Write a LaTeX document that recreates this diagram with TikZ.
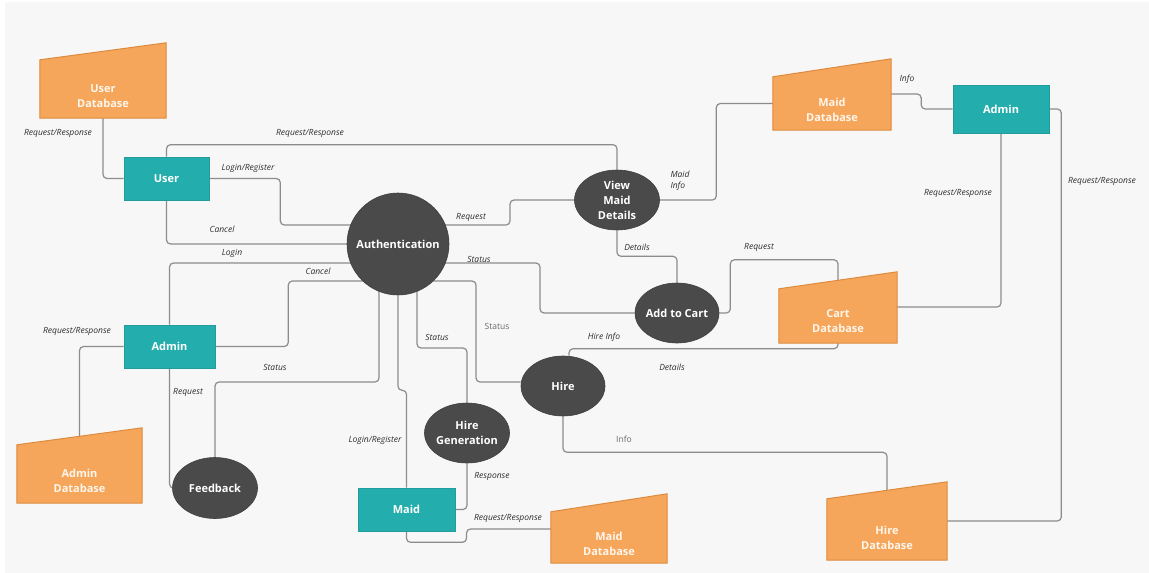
\documentclass[tikz,border=0pt]{standalone}
\usepackage{fontspec}
\setmainfont{Open Sans}
\usetikzlibrary{shapes.geometric,backgrounds,calc}
\definecolor{tealc}{HTML}{23AEAD}
\definecolor{orng}{HTML}{F6A65B}
\definecolor{orngd}{HTML}{DE8A3E}
\definecolor{darkc}{HTML}{4A4A4A}
\definecolor{linec}{HTML}{8C8C8C}
\definecolor{bgc}{HTML}{F7F7F7}
\definecolor{lbl}{HTML}{2E2E2E}
\definecolor{lblu}{HTML}{6A6A6A}
\definecolor{dbtxt}{HTML}{FFF6EC}
\tikzset{
  shapetext/.style={font=\bfseries\fontsize{11}{15}\selectfont, text=white, align=center},
  tbox/.style={rectangle, fill=tealc, draw=tealc!90!black, line width=0.6pt, inner sep=0pt, shapetext},
  proc/.style={ellipse, fill=darkc, draw=darkc!85!black, line width=0.6pt, inner sep=0pt},
  ptext/.style={shapetext},
  dbbody/.style={rectangle, draw=none, inner sep=0pt},
  dbfill/.style={fill=orng, draw=orngd, line width=1pt, line join=miter},
  dbtext/.style={shapetext, text=dbtxt, inner sep=0pt},
  conn/.style={draw=linec, line width=1.2pt, rounded corners=4pt},
  lab/.style={font=\fontsize{8.5}{11}\selectfont\itshape, text=lbl, inner sep=0pt},
  labu/.style={font=\fontsize{8.5}{11}\selectfont, text=lblu, inner sep=0pt}
}
\newcommand\mkdb[7]{%
  \node[dbbody, minimum width=#3pt, minimum height=#4pt] (#1) at #2 {};
  \path[dbfill] (#1.south west) -- (#1.south east) -- ([yshift=#5pt]#1.north east) -- (#1.north west) -- cycle;
  \node[dbtext] (#1-t) at ([yshift=-#6pt]#1.center) {#7};
}
\begin{document}
\begin{tikzpicture}[x=1pt,y=-1pt]
\useasboundingbox (0,0) rectangle (1149,573);

% databases
\mkdb{udb}{(103,89)}{126}{58}{17}{7.5}{User\\Database}
\mkdb{adb}{(79.5,474)}{125}{58}{17}{6.5}{Admin\\Database}
\mkdb{mdbt}{(832,103.5)}{118}{53}{18}{6}{Maid\\Database}
\mkdb{cdb}{(838,316)}{118}{54}{17}{5.5}{Cart\\Database}
\mkdb{mdbb}{(609,537.5)}{116}{51}{18}{6}{Maid\\Database}
\mkdb{hdb}{(887,529.5)}{120}{61}{17}{8}{Hire\\Database}

% teal boxes
\node[tbox, minimum width=85pt, minimum height=43pt] (user) at (166.5,178.5) {User};
\node[tbox, minimum width=91pt, minimum height=43pt] (adminl) at (169.5,346.5) {Admin};
\node[tbox, minimum width=96pt, minimum height=48pt] (adminr) at (1001,109) {Admin};
\node[tbox, minimum width=97pt, minimum height=43pt] (maid) at (406.5,509.5) {Maid};

% processes
\node[proc, circle, minimum size=102pt, label={[ptext]center:Authentication}] (auth) at (398,244) {};
\node[proc, minimum width=85pt, minimum height=60pt, label={[ptext]center:View\\Maid\\Details}] (vmd) at (617,200) {};
\node[proc, minimum width=84pt, minimum height=60pt, label={[ptext]center:Add to Cart}] (cart) at (677,313) {};
\node[proc, minimum width=84pt, minimum height=60pt, label={[ptext]center:Hire}] (hire) at (563,386) {};
\node[proc, minimum width=85pt, minimum height=60pt, label={[ptext]center:Hire\\Generation}] (hgen) at (467,433) {};
\node[proc, minimum width=85pt, minimum height=61pt, label={[ptext]center:Feedback}] (fb) at (215,488) {};

% connectors
\begin{pgfonlayer}{background}
\fill[white] (0,0) rectangle (1149,573);
\fill[bgc] (5,2) rectangle (1149,573);
\draw[conn] (udb.south) |- (user.west);
\draw[conn] (user.north) -- ++(0,-12) -| (vmd.north);
\draw[conn] (user.east) -- ++(71,0) |- ($(auth.center)+(0,-19)$);
\draw[conn] (user.south) |- (auth.center);
\draw[conn] (adminl.north) |- ($(auth.center)+(0,19)$);
\draw[conn] (adminl.east) -- ++(73,0) |- ($(auth.center)+(0,37)$);
\draw[conn] (fb.north) |- ($(auth.center)+(-19,138)$) -- ($(auth.center)+(-19,0)$);
\draw[conn] (adminl.south) |- (fb.west);
\draw[conn] (adminl.west) -| (adb.north);
\draw[conn] ($(auth.center)+(0,-19)$) -- ++(112,0) |- (vmd.west);
\draw[conn] (vmd.east) -- ++(56.5,0) |- (mdbt.west);
\draw[conn] ([yshift=9.5pt]mdbt.east) -- ++(30,0) |- (adminr.west);
\draw[conn] (vmd.south) -- ++(0,26) -| (cart.north);
\draw[conn] ($(auth.center)+(0,19)$) -- ++(142,0) |- (cart.west);
\draw[conn] (cart.east) -- ++(11,0) |- ($(cdb.north)+(0,-29)$) -- (cdb.north);
\draw[conn] (adminr.south) |- ([yshift=9pt]cdb.east);
\draw[conn] (adminr.east) -- ++(12,0) |- ([yshift=8.5pt]hdb.east);
\draw[conn] ($(auth.center)+(0,37)$) -- ++(78,0) |- ([yshift=4pt]hire.west);
\draw[conn] ($(auth.center)+(19,0)$) -- ++(0,104) -| (hgen.north);
\draw[conn] (auth.south) -- ++(0,95) -| (maid.north);
\draw[conn] (hgen.south) |- (maid.east);
\draw[conn] (maid.south) -- ++(0,11) -- ++(60,0) |- ([yshift=8.5pt]mdbb.west);
\draw[conn] ([xshift=6pt]hire.north) -- ++(0,-7) -| (cdb.south);
\draw[conn] (hire.south) -- ++(0,36) -| (hdb.north);
\end{pgfonlayer}

% labels
\node[lab] (l1) at (58,133) {Request/Response};
\node[lab] (l2) at (310,133) {Request/Response};
\node[lab] (l3) at (248,168) {Login/Register};
\node[lab] (l4) at (222,229) {Cancel};
\node[lab] (l5) at (232,253) {Login};
\node[lab] (l6) at (318,271) {Cancel};
\node[lab] (l7) at (77,331) {Request/Response};
\node[lab] (l8) at (188,392) {Request};
\node[lab] (l9) at (275,367) {Status};
\node[lab] (l10) at (471,217) {Request};
\node[lab, align=left] (l11) at (680,180.5) {Maid\\Info};
\node[lab] (l12) at (637,247) {Details};
\node[lab] (l13) at (479,259) {Status};
\node[lab] (l14) at (759,247) {Request};
\node[lab] (l15) at (907,79) {Info};
\node[lab] (l16) at (958,193) {Request/Response};
\node[lab] (l17) at (1102,181) {Request/Response};
\node[labu] (l18) at (497,326) {Status};
\node[lab] (l19) at (437,337) {Status};
\node[lab] (l20) at (604,337) {Hire Info};
\node[lab] (l21) at (672,367) {Details};
\node[lab] (l22) at (375,440) {Login/Register};
\node[lab] (l23) at (492,476) {Response};
\node[lab] (l24) at (508,518) {Request/Response};
\node[labu] (l25) at (624,439) {Info};
\end{tikzpicture}
\end{document}
